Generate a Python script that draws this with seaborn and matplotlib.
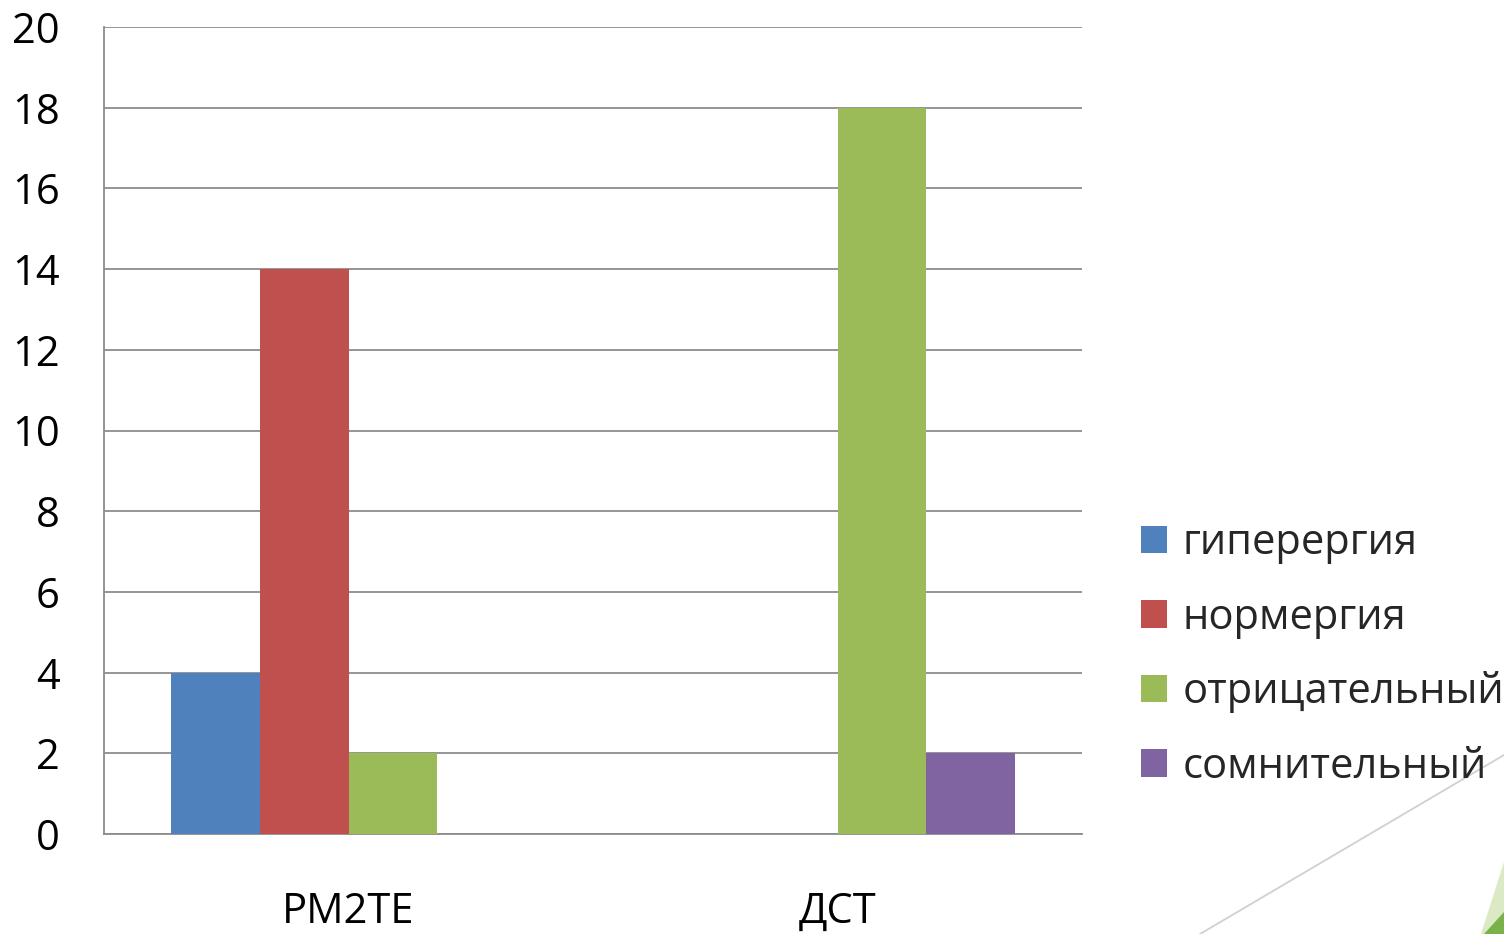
import matplotlib
matplotlib.use("Agg")
import matplotlib.pyplot as plt
import seaborn as sns
import pandas as pd
from matplotlib.patches import Patch, Polygon
from matplotlib.lines import Line2D

# Test results per diagnostic method
methods = ["РМ2ТЕ", "ДСТ"]
reactions = ["гиперергия", "нормергия", "отрицательный", "сомнительный"]
counts_rm2te = [4, 14, 2, 0]
counts_dst = [0, 0, 18, 2]
colors = ["#4F81BD", "#C0504D", "#9BBB59", "#8064A2"]
y_ticks = [0, 2, 4, 6, 8, 10, 12, 14, 16, 18, 20]

df = pd.DataFrame({
    "method": [methods[0]] * len(reactions) + [methods[1]] * len(reactions),
    "reaction": reactions * 2,
    "count": counts_rm2te + counts_dst,
})

sns.set_style("white")
plt.rcParams["font.family"] = ["Open Sans", "DejaVu Sans"]

FS = 30
GRID = "#8c8c8c"

fig = plt.figure(figsize=(15.04, 9.34), dpi=100)
ax = fig.add_axes([104 / 1504, 1 - 834 / 934, (1082 - 104) / 1504, (834 - 27) / 934])

sns.barplot(data=df, x="method", y="count", hue="reaction", hue_order=reactions,
            palette=colors, width=0.724, saturation=1, gap=0, ax=ax,
            legend=False, zorder=3, linewidth=0)

ax.set_xlim(-0.5, 1.5)
ax.set_ylim(0, 20)
ax.set_yticks(y_ticks)
ax.set_xlabel("")
ax.set_ylabel("")
ax.grid(axis="y", color=GRID, linewidth=1.3, zorder=0)
ax.set_axisbelow(True)

for side in ["top", "right"]:
    ax.spines[side].set_visible(False)
for side in ["left", "bottom"]:
    ax.spines[side].set_color(GRID)
    ax.spines[side].set_linewidth(1.3)

ax.set_xticks([-0.5, 0.5, 1.5], minor=True)
ax.set_xticks([0, 1])
ax.set_xticklabels(methods)
ax.tick_params(axis="x", which="major", length=0, pad=41, labelsize=FS)
ax.tick_params(axis="x", which="minor", length=10, width=1.3, color=GRID)
ax.tick_params(axis="y", length=10, width=1.3, color=GRID, pad=22, labelsize=FS)
for lbl in ax.get_xticklabels() + ax.get_yticklabels():
    lbl.set_color("black")

handles = [Patch(facecolor=c, edgecolor="none", label=r) for c, r in zip(colors, reactions)]
fig.legend(handles=handles, loc="center left", bbox_to_anchor=(1124 / 1504, 1 - 655 / 934),
           frameon=False, fontsize=FS, handlelength=0.63, handleheight=0.63,
           handletextpad=0.37, labelspacing=0.78, borderaxespad=0)

# slide decoration in the lower right corner
fig.add_artist(Line2D([1200 / 1504, 1], [0, (934 - 755) / 934],
                      transform=fig.transFigure, color="#d0d0d0", linewidth=1.3))
fig.add_artist(Polygon([[1481 / 1504, 0], [1, (934 - 862) / 934], [1, 0]],
                       closed=True, transform=fig.transFigure,
                       facecolor="#dbeac4", edgecolor="none"))
fig.add_artist(Polygon([[1484 / 1504, 0], [1, (934 - 912) / 934], [1, 0]],
                       closed=True, transform=fig.transFigure,
                       facecolor="#79b249", edgecolor="none"))

fig.savefig("out.png", dpi=100, facecolor="white")
